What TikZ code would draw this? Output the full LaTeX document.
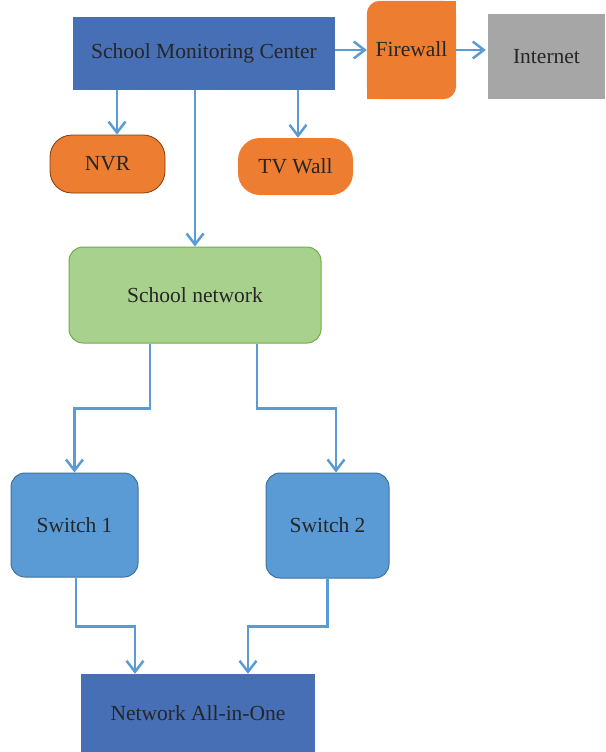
\documentclass[tikz,border=0pt]{standalone}
\usepackage{fontspec}
\setmainfont{Liberation Serif}
\usetikzlibrary{arrows.meta,backgrounds}

\definecolor{hubblue}{HTML}{466FB6}
\definecolor{devorange}{HTML}{ED7D31}
\definecolor{netgray}{HTML}{A6A6A6}
\definecolor{netgreen}{HTML}{A9D18E}
\definecolor{netgreenline}{HTML}{70AD47}
\definecolor{swblue}{HTML}{5B9BD5}
\definecolor{swline}{HTML}{41719C}
\definecolor{nvrline}{HTML}{843C0C}
\definecolor{linkblue}{HTML}{5B9BD5}
\definecolor{labeltext}{HTML}{262626}

\tikzset{
  box/.style={rectangle, inner sep=0pt, align=center, text=labeltext,
    font=\fontsize{21.5}{25}\selectfont},
  hubbox/.style={box, fill=hubblue},
  pillbox/.style={box, fill=devorange, rounded corners=22},
  greybox/.style={box, fill=netgray},
  netbox/.style={box, fill=netgreen, draw=netgreenline, line width=1pt, rounded corners=14},
  swbox/.style={box, fill=swblue, draw=swline, line width=1pt, rounded corners=14},
  link/.style={draw=linkblue, line width=2.5pt,
    -{Straight Barb[length=11pt,width=17pt,line width=2.5pt]}},
}

\begin{document}
\begin{tikzpicture}[x=1pt,y=-1pt]
\useasboundingbox (0,0) rectangle (605,752);

% top row
\node[hubbox, minimum width=262, minimum height=73] (smc) at (204,53.5) {School Monitoring Center};
\node[box, minimum width=89, minimum height=98] (fw) at (411.5,50) {\raisebox{2pt}{Firewall}};
\node[greybox, minimum width=117, minimum height=85] (inet) at (546.5,56.5) {Internet};

% firewall body: rounded at top-left and bottom-right only
\begin{scope}[on background layer]
  \fill[devorange, rounded corners=13] (fw.south west) rectangle (fw.north east);
  \fill[devorange] (fw.north east) rectangle ++(-20,20);
  \fill[devorange] (fw.south west) rectangle ++(20,-20);
\end{scope}

% displays and recorders
\node[pillbox, draw=nvrline, line width=0.8pt, minimum width=115, minimum height=58] (nvr) at (107.5,164) {NVR};
\node[pillbox, minimum width=115, minimum height=57] (tv) at (295.5,166.5) {TV Wall};

% network tree
\node[netbox, minimum width=252, minimum height=96] (net) at (195,295) {School network};
\node[swbox, minimum width=127, minimum height=104] (sw1) at (74.5,525) {Switch 1};
\node[swbox, minimum width=123, minimum height=105] (sw2) at (327.5,525.5) {Switch 2};
\node[hubbox, minimum width=234, minimum height=78] (aio) at (198,713) {Network All-in-One};

% connectors
\coordinate (nvrin) at ([xshift=9.5]nvr.north);
\coordinate (tvin) at ([xshift=2.5]tv.north);
\draw[link] (fw.west -| smc.east) -- (fw.west);
\draw[link, shorten >=2pt] (fw.east) -- (fw.east -| inet.west);
\draw[link] (smc.south -| nvrin) -- (nvrin);
\draw[link] (smc.south -| tvin) -- (tvin);
\draw[link] (smc.south -| net.north) -- (net.north);

\draw[link] ([xshift=-45]net.south) -- ++(0,65) -| (sw1.north);
\draw[link] ([xshift=62]net.south) -- ++(0,65) -| ([xshift=8.5]sw2.north);

\draw[link] ([xshift=1.5]sw1.south) -- ++(0,49) -| ([xshift=-63]aio.north);
\draw[link] (sw2.south) -- ++(0,48) -| ([xshift=50]aio.north);
\end{tikzpicture}
\end{document}
